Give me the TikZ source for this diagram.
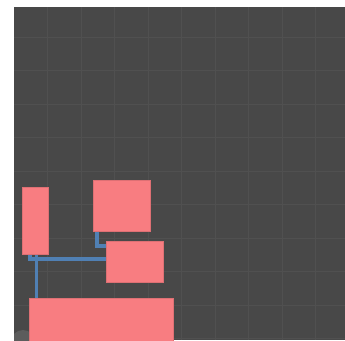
\documentclass[tikz,border=0pt]{standalone}
\usepackage{tikz}
\usetikzlibrary{calc}

\definecolor{canvas}{RGB}{72,72,72}
\definecolor{gridline}{RGB}{80,80,80}
\definecolor{blockfill}{RGB}{248,125,129}
\definecolor{blockedge}{RGB}{222,112,116}
\definecolor{wire}{RGB}{80,128,180}
\definecolor{knob}{RGB}{92,92,92}

\begin{document}
\begin{tikzpicture}[
  x=0.75pt,y=-0.75pt,
  block/.style={draw=blockedge,fill=blockfill,line width=0.5pt,anchor=north west,inner sep=0pt},
  link/.style={draw=wire,line width=2.3pt,line join=miter}]
\useasboundingbox (0,0) rectangle (345,340);
\fill[canvas] (14,7) rectangle (345,340);
\clip (14,7) rectangle (345,340);
\foreach \k in {1,...,9} \draw[gridline,line width=0.5pt] ({14+33.5*\k},7) -- ({14+33.5*\k},340);
\foreach \k in {0,...,9} \draw[gridline,line width=0.5pt] (14,{37+33.5*\k}) -- (345,{37+33.5*\k});
\fill[knob] (23,342) circle (12);
\node[block,minimum width=26*0.75pt,minimum height=67*0.75pt] (r1) at (22,187) {};
\node[block,minimum width=57*0.75pt,minimum height=51*0.75pt] (r2) at (93,180) {};
\node[block,minimum width=57*0.75pt,minimum height=41*0.75pt] (r3) at (105.5,241) {};
\node[block,minimum width=144*0.75pt,minimum height=46*0.75pt] (r4) at (28.5,298) {};
\coordinate (tap) at ($(r1.south west)+(14.5,0)$);
\draw[link] ($(r2.south west)+(4,0)$) |- ($(r3.north west)+(0,5)$);
\draw[link] ($(r1.south west)+(8,0)$) |- ($(r3.north west)+(0,18)$);
\draw[link] (tap) -- (tap |- r4.north);
\end{tikzpicture}
\end{document}
